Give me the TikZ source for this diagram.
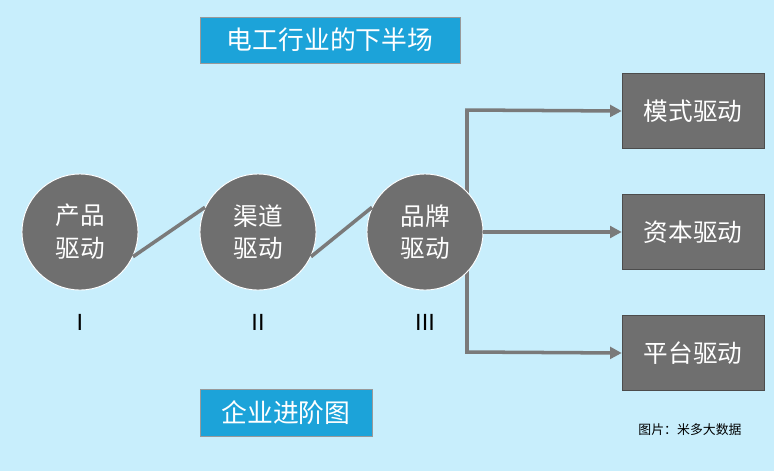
\documentclass[tikz,border=0pt]{standalone}
\usepackage{fontspec}
\newfontfamily\cjk{Noto Sans CJK SC}
\setmainfont{Liberation Sans}
\usetikzlibrary{positioning,arrows.meta}
\definecolor{bgblue}{HTML}{C8EEFC}
\definecolor{titleblue}{HTML}{1CA3D9}
\definecolor{stagegray}{HTML}{6F6F6F}
\definecolor{linegray}{HTML}{7A7A7A}
\tikzset{
  stage/.style={circle, fill=stagegray, draw=white, line width=0.8pt, minimum size=3.48cm, text=white, font=\cjk\fontsize{21}{28}\selectfont, align=center},
  drivebox/.style={rectangle, fill=stagegray, draw=black!70, minimum width=4.26cm, minimum height=2.25cm, text=white, font=\cjk\fontsize{21}{24}\selectfont},
  titlebox/.style={rectangle, fill=titleblue, draw=black!40, text=white, font=\cjk\fontsize{22}{26}\selectfont},
  link/.style={linegray, line width=3pt},
  branch/.style={linegray, line width=3pt, -{Triangle[length=10pt,width=10pt]}}
}
\begin{document}
\begin{tikzpicture}[x=0.03cm,y=-0.03cm]
  \fill[bgblue] (0,0) rectangle (774,471);
  % title boxes
  \node[titlebox, minimum width=7.8cm, minimum height=1.38cm] (top) at (330,40) {电工行业的下半场};
  \node[titlebox, minimum width=5.16cm, minimum height=1.41cm] (bottom) at (286,413) {企业进阶图};
  % branch trunk
  \coordinate (j1) at (467,110);
  \coordinate (j3) at (467,352);
  \draw[linegray, line width=3pt] (j1) -- (j3);
  % stages
  \node[stage] (s1) at (80,232) {产品\\驱动};
  \node[stage] (s2) at (258,232) {渠道\\驱动};
  \node[stage] (s3) at (425,232) {品牌\\驱动};
  \draw[link] (s1.-25) -- (s2.155);
  \draw[link] (s2.-25) -- (s3.155);
  % roman numerals
  \foreach \n/\t in {s1/I, s2/II, s3/III}
    \node[font=\fontsize{20}{24}\selectfont] at ([yshift=-2.7cm]\n.center) {\t};
  % drive boxes
  \node[drivebox] (d1) at (693,111) {模式驱动};
  \node[drivebox] (d2) at (693,232) {资本驱动};
  \node[drivebox] (d3) at (693,353) {平台驱动};
  \draw[branch] ([xshift=-1.5pt]j1) -- (d1.west);
  \draw[branch] (s3.east) -- (d2.west);
  \draw[branch] ([xshift=-1.5pt]j3) -- (d3.west);
  % source
  \node[font=\cjk\fontsize{11}{13}\selectfont] (src) at (690,430) {图片：米多大数据};
\end{tikzpicture}
\end{document}
